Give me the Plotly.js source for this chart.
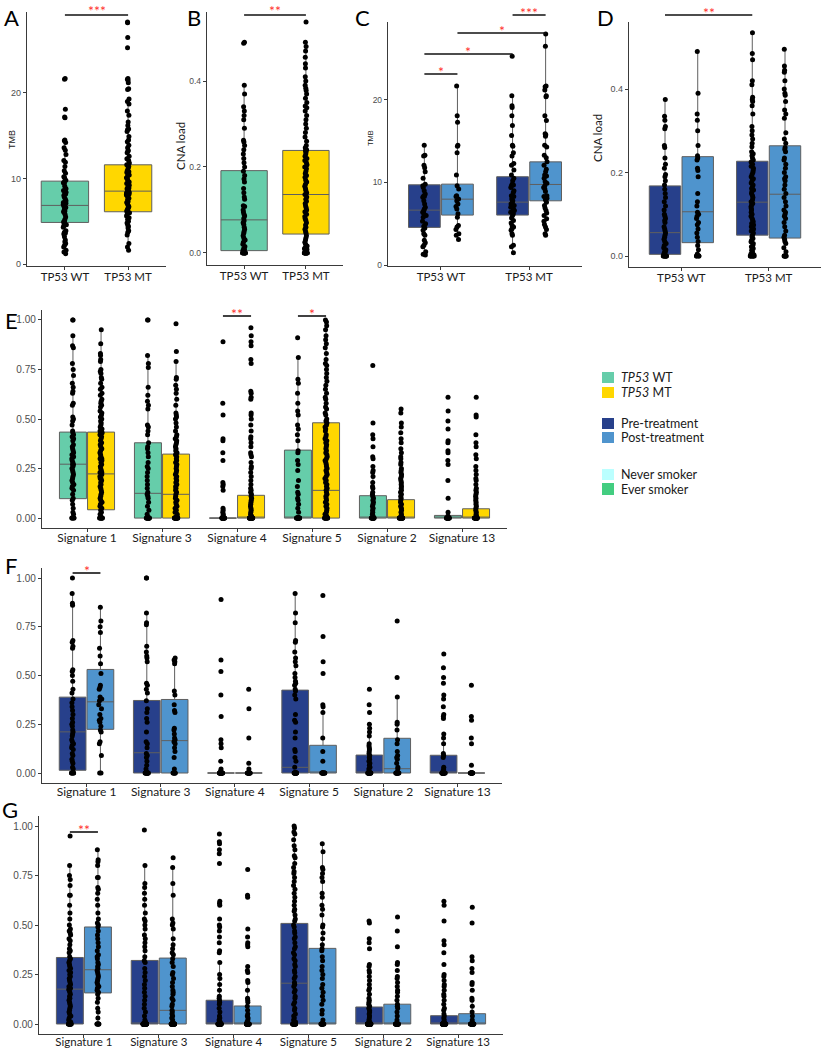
<!DOCTYPE html>
<html><head><meta charset="utf-8">
<script src="https://cdn.plot.ly/plotly-3.0.1.min.js"></script>
<style>html,body{margin:0;padding:0;background:#fff}#chart{width:821px;height:1050px}</style>
</head><body><div id="chart"></div>
<script>
// ---------- categories ----------
const tp53Groups = ['TP53 WT', 'TP53 MT'];
const sigs = ['Signature 1', 'Signature 3', 'Signature 4', 'Signature 5', 'Signature 2', 'Signature 13'];

// ---------- Panel A: TMB by TP53 status ----------
const A_WT = [21.7,21.6,18.1,17.2,17.1,14.5,14.4,14.2,13.6,13.3,12.8,12.1,11.9,11.4,10.9,10.6,10.2,10.1,9.8,9.6,9.5,9.4,9.1,8.8,8.6,8.4,8.3,8.2,8.0,7.8,7.6,7.4,7.2,7.1,7.0,6.8,6.7,6.6,6.4,6.2,6.1,6.0,5.8,5.5,5.2,5.0,4.9,4.8,4.6,4.5,4.3,3.9,3.7,3.6,3.5,3.2,2.8,2.6,2.4,2.2,2.0,1.6,1.4,1.2];
const A_MT = [28.3,28.2,26.5,25.3,21.7,21.6,21.5,21.2,20.5,20.4,19.3,19.0,18.7,17.9,17.4,16.6,16.2,15.8,15.7,15.5,14.9,14.5,14.3,13.9,13.6,13.3,13.2,13.0,12.6,12.3,12.1,11.8,11.6,11.4,11.2,10.9,10.8,10.7,10.6,10.4,10.2,10.1,9.9,9.7,9.6,9.4,9.2,9.0,8.9,8.8,8.6,8.5,8.4,8.3,8.2,8.1,8.0,7.8,7.7,7.5,7.3,7.2,7.0,6.8,6.7,6.5,6.4,6.2,6.1,6.0,5.8,5.6,5.4,5.2,5.0,4.8,4.6,4.4,4.2,3.9,3.7,3.4,2.4,2.0,1.6];
const A_q1 = [4.86, 6.11], A_med = [6.85, 8.52], A_q3 = [9.69, 11.6], A_lo = [1.2, 1.6], A_hi = [14.5, 19.3];

// ---------- Panel B: CNA load by TP53 status ----------
const B_WT = [0.49,0.488,0.39,0.37,0.34,0.33,0.32,0.31,0.29,0.262,0.258,0.25,0.24,0.23,0.22,0.21,0.2,0.19,0.18,0.172,0.165,0.15,0.14,0.13,0.125,0.11,0.108,0.1,0.095,0.09,0.086,0.08,0.075,0.07,0.066,0.06,0.055,0.05,0.046,0.04,0.035,0.03,0.025,0.02,0.015,0.01,0.008,0.005,0.003,0,0,0,0,0,0,0,0];
const B_MT = [0.537,0.49,0.48,0.47,0.455,0.44,0.43,0.41,0.4,0.39,0.383,0.378,0.37,0.36,0.35,0.342,0.338,0.33,0.32,0.31,0.3,0.29,0.28,0.27,0.26,0.25,0.245,0.24,0.238,0.235,0.23,0.225,0.22,0.215,0.21,0.205,0.2,0.196,0.19,0.185,0.18,0.176,0.17,0.165,0.16,0.155,0.15,0.146,0.14,0.136,0.13,0.125,0.12,0.115,0.11,0.105,0.1,0.096,0.09,0.085,0.08,0.076,0.07,0.065,0.06,0.055,0.05,0.046,0.04,0.035,0.03,0.025,0.02,0.016,0.012,0.01,0.008,0.005,0.003,0,0,0,0,0,0,0,0,0,0];
const B_q1 = [0.0054, 0.044], B_med = [0.077, 0.136], B_q3 = [0.1915, 0.2385], B_lo = [0, 0], B_hi = [0.39, 0.495];

// ---------- Panel C: TMB, pre / post treatment ----------
const C_preWT = [14.5,13.3,13.2,12.1,11.8,11.3,10.5,9.8,9.6,9.4,9.0,8.6,8.4,8.3,8.2,7.8,7.4,7.0,6.8,6.6,6.4,6.2,6.0,5.8,5.3,5.0,4.7,4.5,4.2,3.8,3.6,3.0,2.7,2.4,2.2,1.6,1.3,1.2];
const C_postWT = [21.7,18.1,17.3,14.5,14.4,13.6,10.9,9.6,9.2,8.4,8.3,8.0,7.8,7.4,7.1,6.8,6.2,5.8,4.8,4.6,4.3,3.8,3.6,3.1];
const C_preMT = [25.3,20.5,19.3,19.1,18.1,16.9,15.7,14.5,14.4,13.6,13.2,12.3,12.1,11.5,10.9,10.5,10.2,9.8,9.7,9.6,9.4,9.0,8.8,8.4,8.3,8.0,7.8,7.6,7.4,7.2,7.0,6.8,6.6,6.4,6.2,6.0,5.7,5.4,5.1,4.8,4.6,4.4,4.2,3.8,3.6,2.4,2.2,1.5];
const C_postMT = [28.0,26.5,21.7,21.6,21.2,20.5,20.4,18.1,17.5,15.9,15.8,15.6,14.5,14.3,13.3,13.0,12.5,12.1,11.6,11.3,10.9,10.8,10.5,10.1,9.9,9.6,9.4,9.2,8.9,8.4,8.3,8.1,7.9,7.6,7.2,6.9,6.6,6.3,6.0,5.6,5.3,4.9,4.6,4.3,3.8,3.6];
const C_pre_q1 = [4.56, 6.05], C_pre_med = [6.65, 7.62], C_pre_q3 = [9.72, 10.7], C_pre_lo = [1.2, 1.5], C_pre_hi = [14.5, 20.5];
const C_post_q1 = [6.05, 7.78], C_post_med = [7.98, 9.76], C_post_q3 = [9.8, 12.5], C_post_lo = [3.1, 3.6], C_post_hi = [21.7, 28.0];

// ---------- Panel D: CNA load, pre / post treatment ----------
const D_preWT = [0.375,0.335,0.325,0.31,0.305,0.265,0.26,0.235,0.22,0.21,0.195,0.19,0.18,0.17,0.16,0.15,0.14,0.13,0.12,0.11,0.1,0.095,0.09,0.085,0.08,0.07,0.065,0.06,0.055,0.05,0.045,0.04,0.035,0.03,0.025,0.02,0.015,0.01,0.01,0.005,0.005,0,0,0,0,0,0,0,0];
const D_postWT = [0.49,0.39,0.34,0.325,0.3,0.265,0.24,0.235,0.23,0.21,0.205,0.19,0.15,0.13,0.12,0.105,0.1,0.095,0.09,0.08,0.075,0.065,0.055,0.045,0.035,0.025,0.015,0.005,0,0,0,0];
const D_preMT = [0.535,0.485,0.47,0.42,0.41,0.38,0.375,0.37,0.36,0.34,0.31,0.3,0.29,0.28,0.27,0.262,0.25,0.245,0.24,0.235,0.23,0.225,0.22,0.215,0.21,0.205,0.2,0.195,0.19,0.185,0.18,0.175,0.17,0.166,0.162,0.158,0.154,0.15,0.145,0.14,0.135,0.13,0.126,0.122,0.118,0.114,0.11,0.105,0.1,0.095,0.09,0.086,0.082,0.078,0.074,0.07,0.065,0.06,0.055,0.05,0.046,0.042,0.038,0.034,0.03,0.026,0.022,0.018,0.014,0.01,0.008,0.005,0.003,0,0,0,0,0,0,0];
const D_postMT = [0.495,0.455,0.445,0.44,0.42,0.4,0.39,0.385,0.37,0.35,0.34,0.33,0.295,0.28,0.27,0.26,0.255,0.25,0.235,0.23,0.22,0.21,0.2,0.19,0.185,0.18,0.17,0.16,0.15,0.14,0.13,0.12,0.11,0.105,0.1,0.095,0.09,0.08,0.07,0.06,0.05,0.045,0.04,0.035,0.03,0.02,0.01,0,0,0,0,0,0];
const D_pre_q1 = [0.004, 0.05], D_pre_med = [0.056, 0.129], D_pre_q3 = [0.168, 0.227], D_pre_lo = [0, 0], D_pre_hi = [0.377, 0.536];
const D_post_q1 = [0.032, 0.043], D_post_med = [0.106, 0.148], D_post_q3 = [0.238, 0.264], D_post_lo = [0, 0], D_post_hi = [0.496, 0.499];

// ---------- Panel E: signatures by TP53 status ----------
const eWT_s1 = [1,1,0.92,0.87,0.86,0.78,0.75,0.72,0.68,0.66,0.64,0.63,0.58,0.57,0.51,0.5,0.49,0.47,0.44,0.43,0.42,0.41,0.4,0.39,0.37,0.36,0.35,0.34,0.33,0.32,0.31,0.3,0.29,0.28,0.27,0.27,0.26,0.25,0.24,0.23,0.22,0.21,0.2,0.19,0.18,0.17,0.16,0.15,0.14,0.12,0.1,0.09,0.07,0.05,0.03,0.02,0,0,0,0,0];
const eMT_s1 = [0.95,0.88,0.83,0.82,0.8,0.79,0.75,0.74,0.73,0.71,0.7,0.68,0.66,0.65,0.63,0.62,0.6,0.59,0.58,0.57,0.56,0.54,0.53,0.52,0.51,0.5,0.49,0.48,0.47,0.46,0.45,0.44,0.43,0.43,0.42,0.41,0.4,0.39,0.38,0.37,0.36,0.35,0.34,0.33,0.32,0.31,0.3,0.3,0.29,0.28,0.27,0.26,0.25,0.24,0.23,0.23,0.22,0.21,0.2,0.2,0.19,0.18,0.17,0.16,0.15,0.14,0.13,0.12,0.11,0.1,0.09,0.08,0.07,0.06,0.05,0.04,0.03,0.02,0.01,0,0,0,0,0,0,0,0];
const eWT_s3 = [1,1,0.82,0.78,0.76,0.66,0.62,0.59,0.57,0.55,0.47,0.46,0.44,0.42,0.38,0.36,0.35,0.33,0.31,0.28,0.26,0.25,0.23,0.21,0.19,0.17,0.15,0.13,0.12,0.11,0.1,0.08,0.06,0.04,0.02,0,0,0,0,0,0,0,0,0,0,0,0];
const eMT_s3 = [0.98,0.84,0.79,0.71,0.7,0.67,0.65,0.63,0.6,0.57,0.53,0.52,0.51,0.5,0.48,0.46,0.44,0.42,0.41,0.4,0.39,0.38,0.37,0.36,0.35,0.34,0.33,0.32,0.31,0.3,0.29,0.28,0.27,0.26,0.25,0.24,0.23,0.22,0.21,0.2,0.19,0.18,0.17,0.16,0.15,0.14,0.13,0.12,0.11,0.1,0.09,0.08,0.07,0.06,0.05,0.04,0.03,0.02,0.01,0,0,0,0,0,0,0,0,0,0,0,0,0,0,0,0];
const eWT_s4 = [0.89,0.58,0.52,0.4,0.39,0.33,0.29,0.18,0.17,0.16,0.14,0.05,0.04,0.03,0.02,0.01,0,0,0,0,0,0,0,0,0,0,0,0,0,0,0,0,0,0,0,0];
const eMT_s4 = [0.96,0.92,0.89,0.87,0.8,0.78,0.64,0.63,0.61,0.6,0.53,0.52,0.5,0.47,0.44,0.41,0.4,0.38,0.36,0.33,0.32,0.31,0.28,0.26,0.25,0.23,0.21,0.19,0.17,0.15,0.14,0.13,0.12,0.11,0.1,0.09,0.08,0.07,0.06,0.05,0.04,0.03,0.02,0.01,0,0,0,0,0,0,0,0,0,0,0,0,0,0,0,0,0,0,0,0,0,0,0,0,0,0];
const eWT_s5 = [0.91,0.81,0.7,0.68,0.63,0.58,0.54,0.52,0.47,0.45,0.42,0.39,0.34,0.33,0.29,0.27,0.24,0.19,0.16,0.13,0.12,0.1,0.09,0.07,0.05,0.03,0,0,0,0,0,0,0,0,0,0,0,0,0,0,0,0];
const eMT_s5 = [1,0.99,0.97,0.95,0.92,0.9,0.88,0.86,0.83,0.8,0.78,0.77,0.75,0.73,0.71,0.69,0.67,0.65,0.63,0.61,0.6,0.58,0.56,0.55,0.53,0.52,0.5,0.49,0.48,0.47,0.46,0.45,0.44,0.42,0.41,0.4,0.39,0.38,0.37,0.36,0.35,0.34,0.33,0.32,0.31,0.3,0.29,0.28,0.27,0.26,0.25,0.24,0.23,0.22,0.21,0.2,0.19,0.18,0.17,0.16,0.15,0.14,0.13,0.12,0.11,0.1,0.09,0.08,0.07,0.06,0.05,0.04,0.03,0.02,0.01,0,0,0,0,0,0,0,0,0,0];
const eWT_s2 = [0.77,0.48,0.42,0.4,0.36,0.31,0.3,0.26,0.24,0.23,0.21,0.18,0.16,0.15,0.13,0.12,0.11,0.1,0.09,0.08,0.07,0.06,0.05,0.04,0.03,0.02,0.01,0,0,0,0,0,0,0,0,0,0,0,0,0,0,0];
const eMT_s2 = [0.55,0.53,0.48,0.46,0.43,0.4,0.38,0.35,0.33,0.31,0.3,0.28,0.27,0.25,0.24,0.23,0.22,0.21,0.2,0.19,0.18,0.17,0.16,0.15,0.14,0.13,0.12,0.11,0.1,0.09,0.08,0.07,0.06,0.05,0.04,0.03,0.02,0.01,0,0,0,0,0,0,0,0,0,0,0,0,0,0,0,0,0,0,0,0,0,0];
const eWT_s13 = [0.61,0.54,0.49,0.45,0.39,0.38,0.34,0.33,0.29,0.27,0.19,0.1,0.03,0.01,0,0,0,0,0,0,0,0,0,0,0,0,0,0,0,0];
const eMT_s13 = [0.61,0.52,0.51,0.42,0.38,0.36,0.32,0.3,0.26,0.24,0.22,0.2,0.19,0.17,0.15,0.14,0.13,0.12,0.11,0.1,0.09,0.08,0.07,0.06,0.05,0.04,0.03,0.02,0.01,0,0,0,0,0,0,0,0,0,0,0,0,0,0,0,0,0,0,0,0,0];
const eWT_q1 = [0.098,0,0,0,0,0], eWT_med = [0.272,0.125,0,0,0,0], eWT_q3 = [0.434,0.38,0,0.343,0.113,0.0135], eWT_lo = [0,0,0,0,0,0], eWT_hi = [0.926,0.82,0,0.816,0.26,0.03];
const eMT_q1 = [0.042,0,0,0,0,0], eMT_med = [0.223,0.12,0,0.14,0,0], eMT_q3 = [0.434,0.323,0.115,0.481,0.093,0.047], eMT_lo = [0,0,0,0,0,0], eMT_hi = [0.948,0.79,0.28,1,0.23,0.115];

// ---------- Panel F: signatures, pre / post treatment ----------
const fPre_s1 = [1,0.92,0.87,0.86,0.68,0.67,0.65,0.64,0.53,0.52,0.5,0.47,0.43,0.41,0.38,0.36,0.34,0.32,0.3,0.28,0.26,0.25,0.24,0.22,0.21,0.2,0.19,0.17,0.16,0.15,0.14,0.13,0.12,0.1,0.09,0.07,0.06,0.05,0.03,0.02,0,0,0,0,0];
const fPost_s1 = [0.85,0.78,0.75,0.72,0.64,0.6,0.56,0.51,0.45,0.44,0.43,0.39,0.38,0.37,0.35,0.33,0.3,0.28,0.27,0.26,0.24,0.22,0.21,0.16,0.15,0.09,0,0];
const fPre_s3 = [1,1,0.82,0.77,0.76,0.65,0.62,0.6,0.59,0.57,0.46,0.45,0.43,0.41,0.37,0.33,0.31,0.28,0.26,0.21,0.16,0.15,0.13,0.1,0.09,0.08,0.06,0.04,0.02,0,0,0,0,0,0,0,0,0,0,0,0];
const fPost_s3 = [0.59,0.58,0.57,0.56,0.42,0.4,0.35,0.32,0.31,0.23,0.22,0.2,0.18,0.17,0.16,0.15,0.13,0.11,0.08,0.02,0,0,0,0,0,0];
const fPre_s4 = [0.89,0.58,0.52,0.4,0.29,0.17,0.15,0.13,0.06,0.02,0.01,0,0,0,0,0,0,0,0,0,0,0,0,0,0,0,0,0,0,0];
const fPost_s4 = [0.43,0.33,0.18,0.05,0.02,0,0,0,0,0,0,0,0,0,0,0,0,0];
const fPre_s5 = [0.92,0.82,0.77,0.68,0.67,0.62,0.59,0.57,0.55,0.51,0.49,0.47,0.46,0.45,0.43,0.42,0.4,0.38,0.3,0.27,0.26,0.21,0.18,0.12,0.11,0.08,0.06,0.03,0,0,0,0,0,0,0,0,0,0,0,0,0,0,0,0,0,0];
const fPost_s5 = [0.91,0.7,0.57,0.51,0.35,0.34,0.31,0.18,0.11,0.06,0,0,0,0,0,0,0,0,0,0];
const fPre_s2 = [0.43,0.35,0.31,0.25,0.23,0.21,0.19,0.15,0.14,0.13,0.12,0.11,0.1,0.09,0.08,0.07,0.06,0.05,0.04,0.03,0.02,0.01,0,0,0,0,0,0,0,0,0,0,0,0,0,0,0,0,0,0];
const fPost_s2 = [0.78,0.49,0.39,0.26,0.25,0.22,0.17,0.15,0.11,0.09,0.08,0.07,0.05,0.03,0.02,0,0,0,0,0,0,0,0,0,0,0];
const fPre_s13 = [0.61,0.54,0.49,0.46,0.4,0.38,0.34,0.3,0.29,0.28,0.2,0.18,0.15,0.1,0.09,0.08,0.03,0.02,0.01,0,0,0,0,0,0,0,0,0,0,0,0,0,0,0,0,0,0,0,0];
const fPost_s13 = [0.45,0.29,0.27,0.18,0.15,0.04,0,0,0,0,0,0,0,0,0,0,0,0,0,0];
const fPre_q1 = [0.014,0,0,0,0,0], fPre_med = [0.211,0.104,0,0.029,0,0], fPre_q3 = [0.389,0.372,0,0.425,0.092,0.091], fPre_lo = [0,0,0,0,0,0], fPre_hi = [0.921,0.818,0,0.92,0.21,0.2];
const fPost_q1 = [0.224,0,0,0,0,0], fPost_med = [0.365,0.166,0,0,0.022,0], fPost_q3 = [0.531,0.377,0,0.142,0.178,0], fPost_lo = [0,0,0,0,0,0], fPost_hi = [0.85,0.59,0,0.35,0.394,0];

// ---------- Panel G: signatures, pre / post treatment ----------
const gPre_s1 = [0.95,0.8,0.75,0.73,0.7,0.65,0.65,0.6,0.56,0.53,0.5,0.48,0.47,0.46,0.45,0.43,0.42,0.4,0.38,0.37,0.36,0.34,0.33,0.32,0.31,0.3,0.29,0.28,0.27,0.26,0.25,0.24,0.23,0.22,0.21,0.2,0.19,0.18,0.175,0.17,0.16,0.15,0.14,0.13,0.12,0.11,0.1,0.09,0.08,0.07,0.06,0.05,0.04,0.03,0.02,0.01,0,0,0,0,0,0,0,0,0,0,0,0];
const gPost_s1 = [0.88,0.83,0.82,0.8,0.74,0.74,0.69,0.68,0.66,0.63,0.6,0.56,0.53,0.51,0.5,0.49,0.47,0.45,0.43,0.41,0.39,0.37,0.35,0.34,0.33,0.31,0.3,0.29,0.28,0.27,0.26,0.25,0.24,0.23,0.22,0.21,0.2,0.19,0.18,0.17,0.16,0.15,0.13,0.11,0.08,0.06,0.03,0,0,0,0,0,0];
const gPre_s3 = [0.98,0.8,0.71,0.69,0.66,0.63,0.6,0.56,0.53,0.52,0.5,0.48,0.45,0.43,0.41,0.39,0.37,0.34,0.32,0.31,0.28,0.26,0.24,0.22,0.2,0.18,0.16,0.14,0.12,0.1,0.08,0.06,0.04,0.02,0.01,0,0,0,0,0,0,0,0,0,0,0,0,0,0,0,0,0,0,0,0,0,0,0,0,0,0,0,0,0,0,0,0,0,0,0,0,0,0,0,0];
const gPost_s3 = [0.84,0.79,0.71,0.65,0.53,0.51,0.5,0.48,0.43,0.4,0.38,0.36,0.35,0.33,0.31,0.29,0.26,0.25,0.23,0.21,0.19,0.17,0.16,0.15,0.13,0.12,0.1,0.09,0.07,0.06,0.05,0.04,0.03,0.02,0,0,0,0,0,0,0,0,0,0,0,0,0,0,0,0,0,0,0,0,0,0,0,0,0];
const gPre_s4 = [0.96,0.92,0.91,0.88,0.86,0.81,0.62,0.61,0.6,0.53,0.5,0.49,0.47,0.44,0.41,0.37,0.36,0.31,0.25,0.23,0.2,0.17,0.14,0.13,0.12,0.11,0.1,0.08,0.06,0.04,0.03,0.02,0.01,0,0,0,0,0,0,0,0,0,0,0,0,0,0,0,0,0,0,0,0,0,0,0,0,0,0,0,0,0,0,0,0,0,0,0,0,0,0,0,0,0];
const gPost_s4 = [0.78,0.65,0.64,0.48,0.44,0.41,0.4,0.39,0.29,0.27,0.26,0.22,0.21,0.17,0.13,0.12,0.11,0.09,0.07,0.05,0.04,0.03,0.02,0.01,0,0,0,0,0,0,0,0,0,0,0,0,0,0,0,0,0,0,0,0,0,0,0,0,0,0,0,0,0,0];
const gPre_s5 = [1,0.99,0.97,0.96,0.93,0.9,0.88,0.85,0.84,0.81,0.79,0.77,0.76,0.74,0.72,0.7,0.68,0.66,0.64,0.62,0.6,0.58,0.57,0.55,0.53,0.52,0.5,0.49,0.47,0.46,0.44,0.43,0.41,0.39,0.38,0.36,0.35,0.33,0.32,0.3,0.29,0.27,0.26,0.24,0.23,0.21,0.2,0.19,0.17,0.16,0.14,0.13,0.11,0.1,0.08,0.07,0.05,0.04,0.03,0.02,0.01,0,0,0,0,0,0,0,0,0,0,0,0,0,0,0,0,0,0,0];
const gPost_s5 = [0.91,0.87,0.79,0.78,0.76,0.74,0.72,0.66,0.64,0.6,0.58,0.55,0.5,0.49,0.46,0.43,0.4,0.38,0.37,0.34,0.32,0.29,0.27,0.25,0.23,0.2,0.18,0.16,0.14,0.12,0.1,0.07,0.05,0.02,0,0,0,0,0,0,0,0,0,0,0,0];
const gPre_s2 = [0.52,0.51,0.43,0.41,0.38,0.3,0.29,0.27,0.26,0.24,0.22,0.2,0.18,0.17,0.15,0.13,0.12,0.11,0.1,0.09,0.08,0.07,0.06,0.05,0.04,0.03,0.02,0.01,0,0,0,0,0,0,0,0,0,0,0,0,0,0,0,0,0,0,0,0,0,0,0,0,0,0,0,0,0,0,0,0,0,0,0,0,0,0,0,0];
const gPost_s2 = [0.54,0.47,0.39,0.31,0.3,0.27,0.24,0.23,0.21,0.19,0.17,0.16,0.14,0.12,0.1,0.09,0.08,0.06,0.04,0.02,0,0,0,0,0,0,0,0,0,0,0,0,0,0,0,0,0,0,0,0,0,0,0,0,0];
const gPre_s13 = [0.62,0.6,0.52,0.42,0.4,0.36,0.3,0.25,0.24,0.22,0.2,0.19,0.17,0.15,0.14,0.12,0.1,0.08,0.07,0.05,0.04,0.03,0.02,0.01,0,0,0,0,0,0,0,0,0,0,0,0,0,0,0,0,0,0,0,0,0,0,0,0,0,0,0,0,0,0,0,0,0,0,0,0,0,0,0,0,0,0,0,0,0,0,0,0];
const gPost_s13 = [0.59,0.51,0.34,0.32,0.28,0.26,0.21,0.2,0.17,0.13,0.12,0.09,0.06,0.04,0.02,0,0,0,0,0,0,0,0,0,0,0,0,0,0,0,0,0,0,0,0,0,0,0,0,0,0,0,0,0,0];
const gPre_q1 = [0,0,0,0,0,0], gPre_med = [0.176,0,0,0.206,0,0], gPre_q3 = [0.336,0.321,0.12,0.508,0.086,0.042], gPre_lo = [0,0,0,0,0,0], gPre_hi = [0.804,0.8,0.3,1,0.21,0.1];
const gPost_q1 = [0.157,0,0,0,0,0], gPost_med = [0.274,0.069,0,0,0,0], gPost_q3 = [0.49,0.333,0.091,0.382,0.1,0.052], gPost_lo = [0,0,0,0,0,0], gPost_hi = [0.88,0.787,0.22,0.91,0.25,0.13];

// ---------- styling ----------
const COL = {wt:'#66CDAA', mt:'#FFD700', pre:'#27408B', post:'#4F94CD', never:'#BBFFFF', ever:'#43CD80'};
const BOXLINE = '#5f5f5f';
const AXC = '#3a3a3a';
const W = 821, H = 1050;
const px = v => v / W;
const py = v => 1 - v / H;

function boxTrace(xa, ya, cats, ys, q1, med, q3, lo, hi, color, jitter, opts) {
  const t = {
    type:'box', orientation:'v', xaxis:xa, yaxis:ya,
    x:cats, y:ys, q1:q1, median:med, q3:q3, lowerfence:lo, upperfence:hi,
    boxpoints:'all', pointpos:0, jitter:jitter, whiskerwidth:0,
    fillcolor:color, line:{color:BOXLINE, width:1},
    marker:{color:'#000000', size:5, line:{width:0}},
    hoverinfo:'skip', showlegend:false
  };
  return Object.assign(t, opts);
}

const data = [
  boxTrace('x','y',['TP53 WT'],[A_WT],[A_q1[0]],[A_med[0]],[A_q3[0]],[A_lo[0]],[A_hi[0]],COL.wt,0.08,{width:0.75}),
  boxTrace('x','y',['TP53 MT'],[A_MT],[A_q1[1]],[A_med[1]],[A_q3[1]],[A_lo[1]],[A_hi[1]],COL.mt,0.08,{width:0.75}),
  boxTrace('x2','y2',['TP53 WT'],[B_WT],[B_q1[0]],[B_med[0]],[B_q3[0]],[B_lo[0]],[B_hi[0]],COL.wt,0.08,{width:0.75}),
  boxTrace('x2','y2',['TP53 MT'],[B_MT],[B_q1[1]],[B_med[1]],[B_q3[1]],[B_lo[1]],[B_hi[1]],COL.mt,0.08,{width:0.75}),
  boxTrace('x3','y3',tp53Groups,[C_preWT,C_preMT],C_pre_q1,C_pre_med,C_pre_q3,C_pre_lo,C_pre_hi,COL.pre,0.13,{alignmentgroup:'C',offsetgroup:'pre'}),
  boxTrace('x3','y3',tp53Groups,[C_postWT,C_postMT],C_post_q1,C_post_med,C_post_q3,C_post_lo,C_post_hi,COL.post,0.13,{alignmentgroup:'C',offsetgroup:'post'}),
  boxTrace('x4','y4',tp53Groups,[D_preWT,D_preMT],D_pre_q1,D_pre_med,D_pre_q3,D_pre_lo,D_pre_hi,COL.pre,0.13,{alignmentgroup:'D',offsetgroup:'pre'}),
  boxTrace('x4','y4',tp53Groups,[D_postWT,D_postMT],D_post_q1,D_post_med,D_post_q3,D_post_lo,D_post_hi,COL.post,0.13,{alignmentgroup:'D',offsetgroup:'post'}),
  boxTrace('x5','y5',sigs,[eWT_s1,eWT_s3,eWT_s4,eWT_s5,eWT_s2,eWT_s13],eWT_q1,eWT_med,eWT_q3,eWT_lo,eWT_hi,COL.wt,0.13,{alignmentgroup:'E',offsetgroup:'wt'}),
  boxTrace('x5','y5',sigs,[eMT_s1,eMT_s3,eMT_s4,eMT_s5,eMT_s2,eMT_s13],eMT_q1,eMT_med,eMT_q3,eMT_lo,eMT_hi,COL.mt,0.13,{alignmentgroup:'E',offsetgroup:'mt'}),
  boxTrace('x6','y6',sigs,[fPre_s1,fPre_s3,fPre_s4,fPre_s5,fPre_s2,fPre_s13],fPre_q1,fPre_med,fPre_q3,fPre_lo,fPre_hi,COL.pre,0.13,{alignmentgroup:'F',offsetgroup:'pre'}),
  boxTrace('x6','y6',sigs,[fPost_s1,fPost_s3,fPost_s4,fPost_s5,fPost_s2,fPost_s13],fPost_q1,fPost_med,fPost_q3,fPost_lo,fPost_hi,COL.post,0.13,{alignmentgroup:'F',offsetgroup:'post'}),
  boxTrace('x7','y7',sigs,[gPre_s1,gPre_s3,gPre_s4,gPre_s5,gPre_s2,gPre_s13],gPre_q1,gPre_med,gPre_q3,gPre_lo,gPre_hi,COL.pre,0.13,{alignmentgroup:'G',offsetgroup:'pre'}),
  boxTrace('x7','y7',sigs,[gPost_s1,gPost_s3,gPost_s4,gPost_s5,gPost_s2,gPost_s13],gPost_q1,gPost_med,gPost_q3,gPost_lo,gPost_hi,COL.post,0.13,{alignmentgroup:'G',offsetgroup:'post'})
];

function xax(x0, x1, cats, range, fsize, anchor, standoff) {
  return {domain:[px(x0), px(x1)], anchor:anchor, type:'category', categoryorder:'array', categoryarray:cats,
    range:range, showline:true, linecolor:AXC, linewidth:1.2, ticks:'outside', ticklen:3, tickcolor:AXC, tickwidth:1,
    ticklabelstandoff:standoff,
    tickfont:{family:'Lato, sans-serif', size:fsize, color:'#1a1a1a'}, showgrid:false, zeroline:false, fixedrange:true};
}
function yax(ytop, ybot, range, dtick, fmt, fsize, anchor) {
  return {domain:[py(ybot), py(ytop)], anchor:anchor, range:range, tick0:0, dtick:dtick, tickformat:fmt,
    showline:true, linecolor:AXC, linewidth:1.2, ticks:'outside', ticklen:3, tickcolor:AXC, tickwidth:1,
    tickfont:{family:'Liberation Sans, Arial, sans-serif', size:fsize, color:'#4d4d4d'}, showgrid:false, zeroline:false, fixedrange:true};
}

const layout = {
  width:W, height:H, margin:{l:0, r:0, t:0, b:0}, paper_bgcolor:'#ffffff', plot_bgcolor:'#ffffff',
  showlegend:false, boxmode:'group', boxgap:0.25, boxgroupgap:0.04,
  xaxis:  xax(27, 166, tp53Groups, [-0.6, 1.6], 11.5, 'y', -3),
  yaxis:  yax(12, 266, [-0.234, 29.47], 10, 'd', 9, 'x'),
  xaxis2: xax(207, 343, tp53Groups, [-0.6, 1.6], 11.5, 'y2', -3),
  yaxis2: yax(12, 265, [-0.028, 0.5605], 0.2, '.1f', 8.5, 'x2'),
  xaxis3: xax(388, 582, tp53Groups, [-0.6, 1.6], 11.5, 'y3', -3),
  yaxis3: yax(22, 266, [-0.12, 29.45], 10, 'd', 8.5, 'x3'),
  xaxis4: xax(629, 821, tp53Groups, [-0.6, 1.6], 11.5, 'y4', -3),
  yaxis4: yax(22, 267, [-0.0263, 0.5605], 0.2, '.1f', 9, 'x4'),
  xaxis5: xax(42, 507, sigs, [-0.6, 5.6], 12, 'y5', -5),
  yaxis5: yax(310, 528, [-0.05, 1.05], 0.25, '.2f', 10, 'x5'),
  xaxis6: xax(42, 502, sigs, [-0.6, 5.6], 12, 'y6', -5),
  yaxis6: yax(568.25, 782.75, [-0.05, 1.05], 0.25, '.2f', 10, 'x6'),
  xaxis7: xax(39, 503, sigs, [-0.6, 5.6], 11.5, 'y7', -6),
  yaxis7: yax(816.1, 1033.9, [-0.05, 1.05], 0.25, '.2f', 10, 'x7'),
  shapes: [],
  annotations: []
};

// significance bars (x in category-index units, y in page pixels); stars placed with top anchor
const D = 0.1875;
const sigBars = [
  ['x', 0, 1, 15, '***', 0],
  ['x2', 0, 1, 15, '**', 0],
  ['x3', -D, D, 74, '*', 61],
  ['x3', -D, 1 - D, 54, '*', 41],
  ['x3', D, 1 + D, 33, '*', 20],
  ['x3', 1 - D, 1 + D, 15, '***', 2],
  ['x4', -D, 1 - D, 15, '**', 2],
  ['x5', 2 - D, 2 + D, 316, '**', 303],
  ['x5', 3 - D, 3 + D, 316, '*', 303],
  ['x6', -D, D, 573, '*', 560],
  ['x7', -D, D, 832, '**', 819]
];
sigBars.forEach(([xa, a, b, yb, stars, ytop]) => {
  layout.shapes.push({type:'line', xref:xa, yref:'paper', x0:a, x1:b, y0:py(yb), y1:py(yb), line:{color:'#111111', width:1.6}});
  layout.annotations.push({xref:xa, yref:'paper', x:(a + b) / 2, y:py(ytop), text:stars, showarrow:false,
    xanchor:'center', yanchor:'top', font:{family:'Lato, sans-serif', size:14, color:'#ff3030'}});
});

// panel letters
[['A',11,18],['B',194,18],['C',362,18],['D',605,17],['E',11,320],['F',11,565],['G',10,809]].forEach(([t,x,y]) => {
  layout.annotations.push({xref:'paper', yref:'paper', x:px(x), y:py(y), text:t, showarrow:false,
    xanchor:'center', yanchor:'middle', font:{family:'Lato, sans-serif', size:22, color:'#000000'}});
});

// y-axis titles
[['TMB',12,140,9,'Liberation Sans, Arial, sans-serif'],['CNA load',180,146,11.5,'Lato, sans-serif'],
 ['TMB',370,138,7.5,'Liberation Sans, Arial, sans-serif'],['CNA load',597,138,11.5,'Lato, sans-serif']].forEach(([t,x,y,s,f]) => {
  layout.annotations.push({xref:'paper', yref:'paper', x:px(x), y:py(y), text:t, textangle:-90, showarrow:false,
    xanchor:'center', yanchor:'middle', font:{family:f, size:s, color:'#1a1a1a'}});
});

// legend (swatches + labels)
const legendItems = [
  ['<i>TP53</i> WT', COL.wt, 372, 383],
  ['<i>TP53</i> MT', COL.mt, 387, 398],
  ['Pre-treatment', COL.pre, 418, 429],
  ['Post-treatment', COL.post, 432, 443],
  ['Never smoker', COL.never, 469, 480],
  ['Ever smoker', COL.ever, 483, 495]
];
legendItems.forEach(([t, c, y0, y1]) => {
  layout.shapes.push({type:'rect', xref:'paper', yref:'paper', x0:px(602), x1:px(614), y0:py(y1), y1:py(y0),
    fillcolor:c, line:{width:0}});
  layout.annotations.push({xref:'paper', yref:'paper', x:px(619), y:py((y0 + y1) / 2), text:t, showarrow:false,
    xanchor:'left', yanchor:'middle', font:{family:'Lato, sans-serif', size:12.5, color:'#1a1a1a'}});
});

Plotly.newPlot('chart', data, layout, {staticPlot:true, displayModeBar:false});
</script>
</body></html>
